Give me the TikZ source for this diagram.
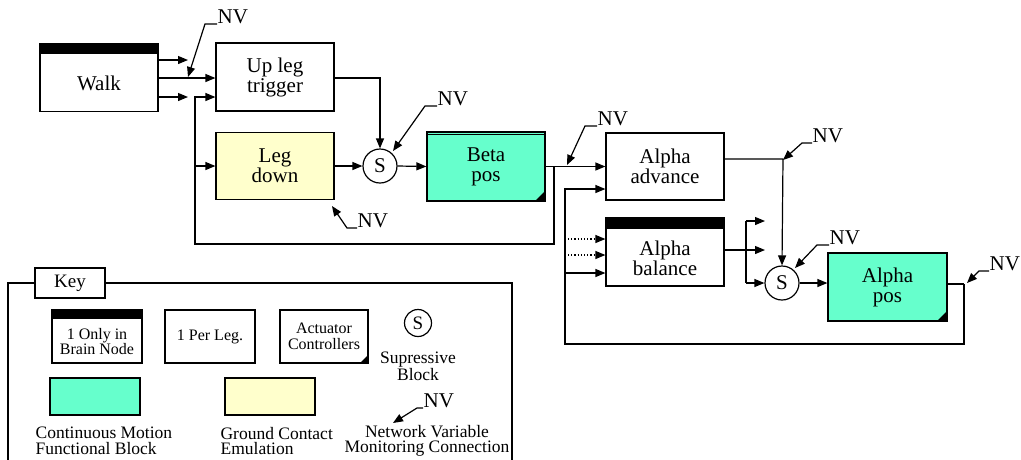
\documentclass[tikz,border=0pt]{standalone}
\usepackage{fontspec}
\setmainfont{Liberation Serif}
\usetikzlibrary{arrows.meta}
\definecolor{tealfill}{HTML}{66FFCC}
\definecolor{yelfill}{HTML}{FFFFCC}
\newcommand\dfbig{\fontsize{21}{20}\selectfont}
\newcommand\dfkey{\fontsize{16}{15.5}\selectfont}
\newcommand\dfleg{\fontsize{17.5}{15.5}\selectfont}
\begin{document}
\begin{tikzpicture}[x=1pt,y=-1pt,line width=1.2pt,
  arr/.style={-{Triangle[length=10pt,width=8pt]}},
  box/.style={draw,fill=white,minimum width=118pt,minimum height=68pt,inner sep=0pt,align=center,font=\dfbig},
  kbox/.style={draw,fill=white,minimum width=90pt,minimum height=53pt,inner sep=0pt,align=center,font=\dfkey},
  sblock/.style={draw,fill=white,circle,minimum size=34pt,inner sep=0pt,font=\dfbig},
  nvtext/.style={font=\dfbig,inner sep=0pt,anchor=south west},
  ktext/.style={font=\dfleg,inner sep=0pt,align=left}]
\useasboundingbox (0,0) rectangle (1021,459);

% ---------- main blocks ----------
\node[box,label={[font=\dfbig,yshift=-6pt]center:Walk}] (walk) at (99,77.5) {};
\fill (walk.north west) rectangle ([yshift=-11pt]walk.north east);
\node[box] (upleg) at (275,77) {Up leg\\trigger};
\node[box,fill=yelfill,minimum height=67pt] (legdown) at (275,166) {Leg\\down};
\node[sblock] (s1) at (380,166) {S};
\node[box,fill=tealfill,minimum height=69pt] (beta) at (486,166.5) {Beta\\pos};
\draw[line width=0.6pt] ([yshift=-3pt]beta.north west) -- ([yshift=-3pt]beta.north east);
\fill (beta.south east) -- ++(0,-11) -- ++(-11,11) -- cycle;
\node[box,minimum height=67pt] (aadv) at (665,166.5) {Alpha\\advance};
\node[box,label={[font=\dfbig,align=center,yshift=-6pt]center:Alpha\\balance}] (abal) at (665,252) {};
\fill (abal.north west) rectangle ([yshift=-12pt]abal.north east);
\node[sblock] (s2) at (782,283) {S};
\node[box,fill=tealfill,minimum width=119pt] (apos) at (887.5,287) {Alpha\\pos};
\fill (apos.south east) -- ++(0,-11) -- ++(-11,11) -- cycle;

% ---------- coordinates ----------
\coordinate (w1) at (188,60);
\coordinate (w3) at (188,97);
\coordinate (fbA) at (554,166);
\coordinate (fbB) at (554,244);
\coordinate (fbC) at (195,244);
\coordinate (fbD) at (195,97);
\coordinate (fbE) at (195,166);
\coordinate (apo) at (964,284);
\coordinate (fb2B) at (964,344);
\coordinate (fb2C) at (565,344);
\coordinate (fb2D) at (565,189);
\coordinate (fb2E) at (565,273);
\coordinate (dotA) at (568,239);
\coordinate (dotB) at (568,255);
\coordinate (aadvo) at (783,159);
\coordinate (brT) at (746,221);
\coordinate (brTe) at (765,221);
\coordinate (brB) at (746,283);
\coordinate (bre) at (765,250);

% ---------- connectors ----------
\draw[arr] (walk.east |- w1) -- (w1);
\draw[arr] (walk.east |- 0,78) -- (upleg.west |- 0,78);
\draw[arr] (walk.east |- w3) -- (w3);
\draw[arr] (upleg.east |- 0,78) -| (s1.north);
\draw[arr] (legdown.east) -- (s1.west);
\draw[arr] (s1.east) -- (beta.west);
\draw[arr] (beta.east) -- (aadv.west |- beta.east);
\draw[arr] (fbA) -- (fbB) -- (fbC) -- (fbD) -- (upleg.west |- fbD);
\draw[arr] (fbE) -- (legdown.west |- fbE);
\draw[line width=2.5pt] (apos.east |- apo) -- (apo);
\draw[arr] (apo) -- (fb2B) -- (fb2C) -- (fb2D) -- (aadv.west |- fb2D);
\draw[arr] (fb2E) -- (abal.west |- fb2E);
\draw[arr,dotted] (dotA) -- (abal.west |- dotA);
\draw[arr,dotted] (dotB) -- (abal.west |- dotB);
\draw[arr] (aadv.east |- aadvo) -- (aadvo) -- (s2.north);
\draw[arr] (abal.east |- bre) -- (bre);
\draw[arr] (brT) -- (brTe);
\draw (brT) -- (brB);
\draw[arr] (brB) -- (s2.west);
\draw[arr] (s2.east) -- (apos.west |- s2.east);

% ---------- NV monitors ----------
\node[nvtext] (nv1) at (217,24) {NV};
\draw[arr] (nv1.south west) -- ++(-12,0) -- (188,77);
\node[nvtext] (nv2) at (437,106) {NV};
\draw[arr] (nv2.south west) -- ++(-12,0) -- (393,151);
\node[nvtext] (nv3) at (357,228) {NV};
\draw[arr] (nv3.south west) -- ++(-10,0) -- (332,206);
\node[nvtext] (nv4) at (597,126) {NV};
\draw[arr] (nv4.south west) -- ++(-12,0) -- (567,165);
\node[nvtext] (nv5) at (812,143) {NV};
\draw[arr] (nv5.south west) -- ++(-10,0) -- (783,160);
\node[nvtext] (nv6) at (829,245) {NV};
\draw[arr] (nv6.south west) -- ++(-12,0) -- (795,268);
\node[nvtext] (nv7) at (989,271) {NV};
\draw[arr] (nv7.south west) -- ++(-10,0) -- (967,283);

% ---------- key ----------
\draw (8,462) -- (8,283) -- (512,283) -- (512,462);
\node[draw,fill=white,minimum width=70pt,minimum height=30pt,inner sep=0pt,font=\fontsize{19}{19}\selectfont] (keytab) at (70,283) {Key};
\node[kbox,label={[font=\dfkey,align=center,yshift=-5pt]center:1 Only in\\Brain Node}] (k1) at (97,336.5) {};
\fill (k1.north west) rectangle ([yshift=-10pt]k1.north east);
\node[kbox] (k2) at (210,336.5) {1 Per Leg.};
\node[kbox,minimum width=88pt] (k3) at (324,336.5) {Actuator\\Controllers};
\fill (k3.south east) -- ++(0,-9) -- ++(-9,9) -- cycle;
\node[draw,circle,minimum size=27pt,inner sep=0pt,font=\fontsize{19}{19}\selectfont] (ks) at (418,323) {S};
\node[ktext,align=center] (kst) at (418,366) {Supressive\\Block};
\node[draw,fill=tealfill,minimum width=90pt,minimum height=37pt] (kteal) at (95,396.5) {};
\node[draw,fill=yelfill,minimum width=90pt,minimum height=37pt] (kyel) at (270,396.5) {};
\node[ktext,anchor=west] (kt1) at (35,441) {Continuous Motion\\Functional Block};
\node[ktext,anchor=west] (kt2) at (220,441) {Ground Contact\\Emulation};
\node[nvtext] (knv) at (423,408) {NV};
\draw[arr] (knv.south west) -- ++(-6,0) -- (393,423);
\node[ktext,align=center] (kt3) at (427,441) {Network Variable\\Monitoring Connection};
\end{tikzpicture}
\end{document}
